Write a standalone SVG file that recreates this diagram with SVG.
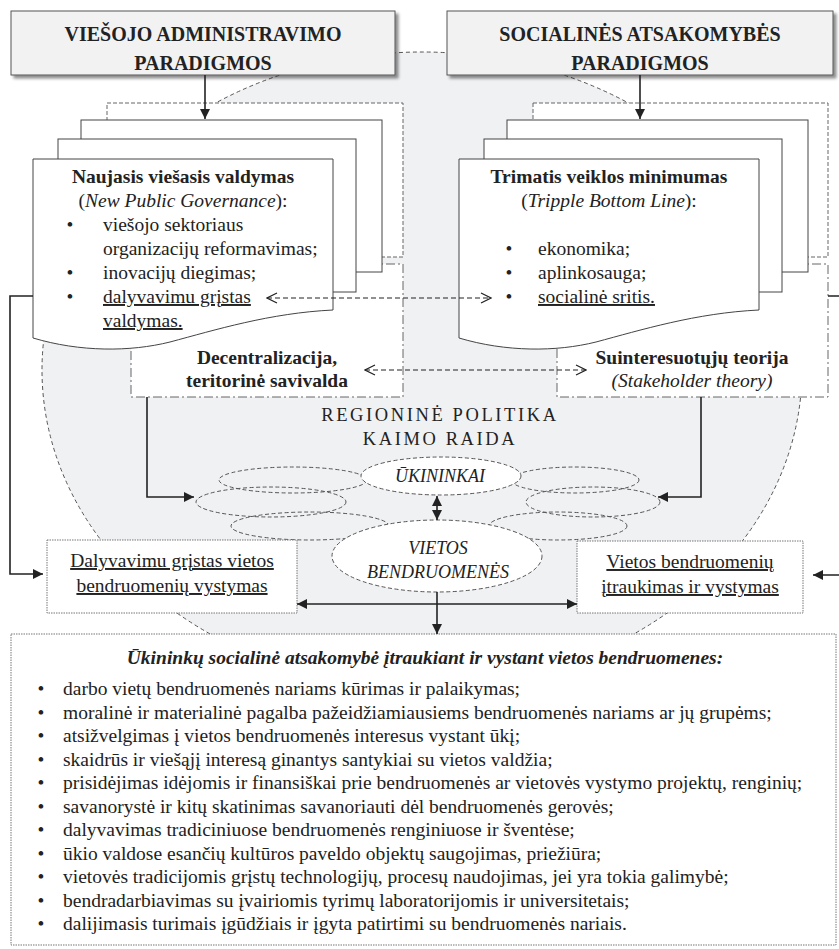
<svg xmlns="http://www.w3.org/2000/svg" width="839" height="949" viewBox="0 0 839 949">
<style>
text{font-family:"Liberation Serif","Times New Roman",serif;font-size:19.5px;fill:#222}
.b{font-weight:bold}
.i{font-style:italic}
.c{text-anchor:middle}
.u{text-decoration:underline}
.hdr{fill:#f2f2f2;stroke:#555;stroke-width:1}
.page{fill:#fff;stroke:#444;stroke-width:1}
.dash{fill:#fff;stroke:#666;stroke-width:1;stroke-dasharray:4,2}
.dd{fill:#fff;stroke:#666;stroke-width:1;stroke-dasharray:9,3,2,3}
.dot{fill:#fff;stroke:#777;stroke-width:1;stroke-dasharray:1.5,1}
.cl{fill:none;stroke:#555;stroke-width:1;stroke-dasharray:4,2.5}
.cw{fill:#fff;stroke:#555;stroke-width:1;stroke-dasharray:4,2.5}
.ln{fill:none;stroke:#222;stroke-width:1.6}
.dl{fill:none;stroke:#222;stroke-width:1.1;stroke-dasharray:5,3}
</style>
<defs>
<filter id="sh" x="-5%" y="-10%" width="115%" height="130%"><feDropShadow dx="3" dy="3" stdDeviation="1.5" flood-color="#000" flood-opacity="0.45"/></filter>
<marker id="ah" viewBox="0 0 10 10" refX="10" refY="5" markerWidth="11" markerHeight="10" markerUnits="userSpaceOnUse" orient="auto-start-reverse"><path d="M0,0 L10,5 L0,10 Z" fill="#222"/></marker>
<marker id="oh" viewBox="0 0 12 12" refX="11" refY="6" markerWidth="12" markerHeight="12" markerUnits="userSpaceOnUse" orient="auto-start-reverse"><path d="M1,1 L11,6 L1,11" fill="none" stroke="#222" stroke-width="1.2"/></marker>
</defs>

<g id="background">
<ellipse cx="422" cy="370" rx="380" ry="318" fill="#f0f1f3" stroke="#555" stroke-width="1" stroke-dasharray="4,3"/>
</g>

<g id="frame-left">
<rect class="dash" x="107" y="103" width="296" height="154"/>
</g>
<g id="frame-right">
<rect class="dash" x="533" y="103" width="295" height="154"/>
</g>

<g id="decentralizacija">
<rect class="dd" x="131" y="264" width="272" height="133"/>
<text class="b c" x="267" y="364">Decentralizacija,</text>
<text class="b c" x="267" y="387">teritorinė savivalda</text>
</g>
<g id="suinteresuotuju">
<rect class="dd" x="557" y="264" width="271" height="133"/>
<text class="b c" x="692" y="364">Suinteresuotųjų teorija</text>
<text class="i c" x="692" y="387">(Stakeholder theory)</text>
</g>

<g id="header-left">
<rect class="hdr" x="11" y="11" width="384" height="64" filter="url(#sh)"/>
<text class="b c" x="203" y="41" style="font-size:20px">VIEŠOJO ADMINISTRAVIMO</text>
<text class="b c" x="203" y="70" style="font-size:20px">PARADIGMOS</text>
</g>
<g id="header-right">
<rect class="hdr" x="447" y="11" width="386" height="64" filter="url(#sh)"/>
<text class="b c" x="640" y="41" style="font-size:20px">SOCIALINĖS ATSAKOMYBĖS</text>
<text class="b c" x="640" y="70" style="font-size:20px">PARADIGMOS</text>
</g>

<g id="doc-left">
<rect class="page" x="81" y="120" width="301" height="152"/>
<rect class="page" x="58" y="139" width="298" height="153"/>
<path class="page" d="M33,159 H333 V310 C270,313 215,330 170,342 C130,352 80,352 33,338 Z"/>
<text class="b c" x="183" y="183">Naujasis viešasis valdymas</text>
<text class="c" x="183" y="207">(<tspan class="i">New Public Governance</tspan>):</text>
<text class="c" x="70" y="231">•</text>
<text x="103" y="231">viešojo sektoriaus</text>
<text x="103" y="255">organizacijų reformavimas;</text>
<text class="c" x="70" y="279">•</text>
<text x="103" y="279">inovacijų diegimas;</text>
<text class="c" x="70" y="303">•</text>
<text class="u" x="103" y="303">dalyvavimu grįstas</text>
<text class="u" x="103" y="327">valdymas.</text>
</g>

<g id="doc-right">
<rect class="page" x="507" y="120" width="301" height="152"/>
<rect class="page" x="484" y="139" width="298" height="153"/>
<path class="page" d="M459,159 H759 V310 C696,313 641,330 596,342 C556,352 506,352 459,338 Z"/>
<text class="b c" x="609" y="183">Trimatis veiklos minimumas</text>
<text class="c" x="609" y="207">(<tspan class="i">Tripple Bottom Line</tspan>):</text>
<text class="c" x="509" y="255">•</text>
<text x="538" y="255">ekonomika;</text>
<text class="c" x="509" y="279">•</text>
<text x="538" y="279">aplinkosauga;</text>
<text class="c" x="509" y="303">•</text>
<text class="u" x="538" y="303">socialinė sritis.</text>
</g>

<g id="regionine">
<text class="c" x="440" y="421" style="font-size:18.5px;letter-spacing:2.6px">REGIONINĖ POLITIKA</text>
<text class="c" x="440" y="445" style="font-size:18.5px;letter-spacing:2.6px">KAIMO RAIDA</text>
</g>

<g id="clouds">
<ellipse class="cl" cx="293" cy="480" rx="74" ry="13"/>
<ellipse class="cl" cx="271" cy="502" rx="75" ry="15"/>
<ellipse class="cl" cx="310" cy="526" rx="79" ry="14"/>
<ellipse class="cl" cx="575" cy="480" rx="64" ry="13"/>
<ellipse class="cl" cx="593" cy="502" rx="67" ry="15"/>
<ellipse class="cl" cx="558" cy="526" rx="69" ry="14"/>
</g>
<g id="ukininkai">
<ellipse class="cw" cx="441" cy="476" rx="80" ry="19"/>
<text class="i c" x="440" y="482" style="font-size:18px">ŪKININKAI</text>
</g>
<g id="vietos-bendruomenes">
<ellipse class="cw" cx="437" cy="556" rx="105" ry="36"/>
<text class="i c" x="438" y="554" style="font-size:18px">VIETOS</text>
<text class="i c" x="438" y="578" style="font-size:18px">BENDRUOMENĖS</text>
</g>

<g id="box-dalyvavimu">
<rect class="dot" x="47" y="540" width="250" height="73"/>
<text class="c u" x="172" y="567">Dalyvavimu grįstas vietos</text>
<text class="c u" x="172" y="592">bendruomenių vystymas</text>
</g>
<g id="box-itraukimas">
<rect class="dot" x="577" y="541" width="226" height="72"/>
<text class="c u" x="690" y="568">Vietos bendruomenių</text>
<text class="c u" x="690" y="593">įtraukimas ir vystymas</text>
</g>

<g id="box-main">
<rect class="dot" x="11" y="634" width="825" height="311"/>
<text class="b i c" x="425" y="664">Ūkininkų socialinė atsakomybė įtraukiant ir vystant vietos bendruomenes:</text>
<g>
<text class="c" x="41" y="695">•</text><text x="63" y="695">darbo vietų bendruomenės nariams kūrimas ir palaikymas;</text>
<text class="c" x="41" y="718.5">•</text><text x="63" y="718.5">moralinė ir materialinė pagalba pažeidžiamiausiems bendruomenės nariams ar jų grupėms;</text>
<text class="c" x="41" y="742">•</text><text x="63" y="742">atsižvelgimas į vietos bendruomenės interesus vystant ūkį;</text>
<text class="c" x="41" y="765.5">•</text><text x="63" y="765.5">skaidrūs ir viešąjį interesą ginantys santykiai su vietos valdžia;</text>
<text class="c" x="41" y="789">•</text><text x="63" y="789">prisidėjimas idėjomis ir finansiškai prie bendruomenės ar vietovės vystymo projektų, renginių;</text>
<text class="c" x="41" y="812.5">•</text><text x="63" y="812.5">savanorystė ir kitų skatinimas savanoriauti dėl bendruomenės gerovės;</text>
<text class="c" x="41" y="836">•</text><text x="63" y="836">dalyvavimas tradiciniuose bendruomenės renginiuose ir šventėse;</text>
<text class="c" x="41" y="859.5">•</text><text x="63" y="859.5">ūkio valdose esančių kultūros paveldo objektų saugojimas, priežiūra;</text>
<text class="c" x="41" y="883">•</text><text x="63" y="883">vietovės tradicijomis grįstų technologijų, procesų naudojimas, jei yra tokia galimybė;</text>
<text class="c" x="41" y="906.5">•</text><text x="63" y="906.5">bendradarbiavimas su įvairiomis tyrimų laboratorijomis ir universitetais;</text>
<text class="c" x="41" y="930">•</text><text x="63" y="930">dalijimasis turimais įgūdžiais ir įgyta patirtimi su bendruomenės nariais.</text>
</g>
</g>

<g id="connectors">
<path class="ln" d="M205,75 V119" marker-end="url(#ah)"/>
<path class="ln" d="M640,75 V119" marker-end="url(#ah)"/>
<path class="dl" d="M267,298 H491" marker-start="url(#oh)" marker-end="url(#oh)"/>
<path class="dl" d="M365,370 H586" marker-start="url(#oh)" marker-end="url(#oh)"/>
<path class="ln" d="M147,397 V497 H194" marker-end="url(#ah)"/>
<path class="ln" d="M701,397 V497 H658" marker-end="url(#ah)"/>
<path class="ln" d="M437,496 V520" marker-start="url(#ah)" marker-end="url(#ah)"/>
<path class="ln" d="M297,604 H577" marker-start="url(#ah)" marker-end="url(#ah)"/>
<path class="ln" d="M437,592 V634" marker-end="url(#ah)"/>
<path class="ln" d="M33,296 H10 V574 H43" marker-end="url(#ah)"/>
<path class="ln" d="M828,296 H850 V575 H813" marker-end="url(#ah)"/>
</g>
</svg>
